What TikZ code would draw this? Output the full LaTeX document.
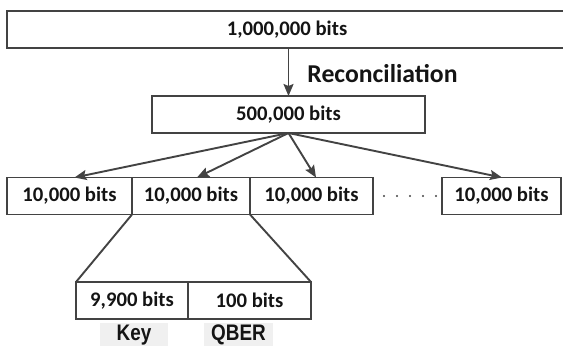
\documentclass[tikz,border=0pt]{standalone}
\usepackage{fontspec}
\setmainfont{Carlito}
\newfontfamily\narrowfont[FakeStretch=0.84]{Liberation Sans}
\usetikzlibrary{arrows.meta,positioning}
\definecolor{linegray}{HTML}{434343}
\definecolor{taggray}{HTML}{F0F0F0}
\definecolor{inkblack}{HTML}{141414}

\begin{document}
\begin{tikzpicture}[x=1pt,y=-1pt,>={Stealth[length=12pt,width=10pt,inset=2pt]},line width=1.9pt,
  bits node/.style={draw=linegray,line width=1.9pt,inner sep=0pt,outer sep=0pt,minimum height=37pt,text=inkblack,font=\fontsize{20.7}{24}\selectfont\bfseries},
  tag node/.style={fill=taggray,inner sep=0pt,outer sep=0pt,text height=17pt,text depth=6pt,text=inkblack,font=\narrowfont\fontsize{22.5}{26}\selectfont\bfseries}]

\useasboundingbox (0,0) rectangle (563,346);

\node[bits node, minimum width=560pt] (raw) at (287,29.5) {1,000,000 bits};
\node[bits node, minimum width=273pt] (rec) at (288.5,114.5) {500,000 bits};

\node[bits node, minimum width=125pt] (b1) at (69.5,196) {10,000 bits};
\node[bits node, minimum width=118pt, right=0pt of b1] (b2) {10,000 bits};
\node[bits node, minimum width=123pt, right=0pt of b2] (b3) {10,000 bits};
\node[bits node, minimum width=119pt] (b4) at (501.5,196) {10,000 bits};

\node[bits node, minimum width=112pt] (kb) at (132,300.5) {9,900 bits};
\node[bits node, minimum width=123pt, right=0pt of kb] (qb) {100 bits};

\node[tag node, minimum width=68pt, anchor=north] (keytag) at (134,323) {Key};
\node[tag node, minimum width=69pt, anchor=north] (qbertag) at (238.5,323) {QBER};

% reconciliation step
\draw[->,draw=linegray] (raw.south -| rec.north) -- node[anchor=base west, inner sep=0pt, xshift=18pt, yshift=-10pt, text=inkblack, font=\fontsize{25.7}{30}\selectfont\bfseries] {Reconciliation} (rec.north);

% split into blocks
\foreach \n/\dx in {b1/5,b2/6,b3/4.5,b4/0.5}
  \draw[->,draw=linegray] (rec.south) -- ([xshift=\dx pt]\n.north);

\foreach \x in {384,397,410,423,436}
  \fill[linegray] (\x,196) circle (1.1pt);

% zoom into one block
\draw[linegray] (b2.south west) -- (kb.north west);
\draw[linegray] (b2.south east) -- (qb.north east);

\end{tikzpicture}
\end{document}
